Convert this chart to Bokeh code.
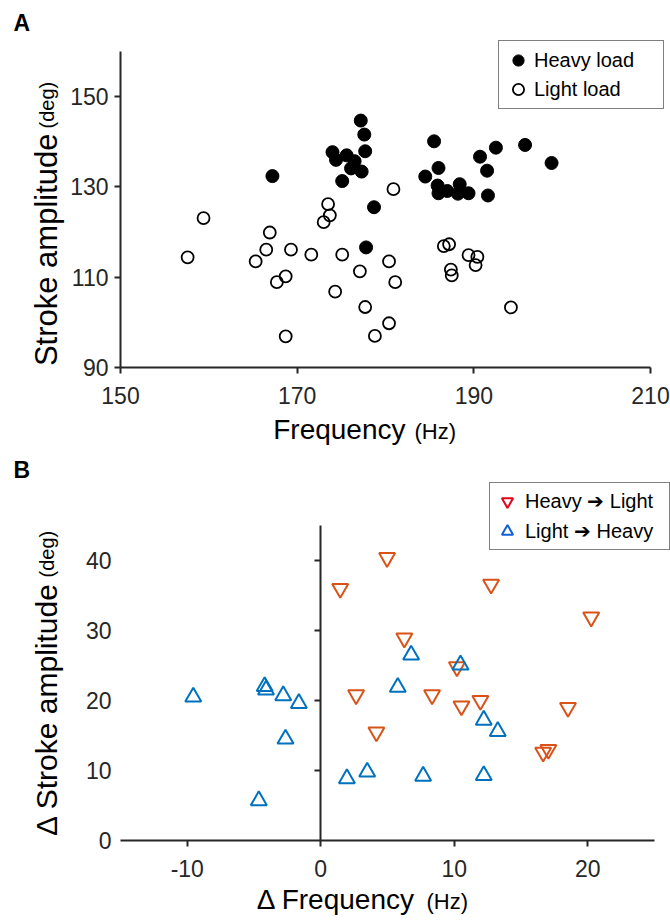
import math
from bokeh.plotting import figure
from bokeh.models import Label, Legend, LegendItem, FixedTicker, Range1d, LinearAxis
from bokeh.layouts import column
from bokeh.embed import file_html
from bokeh.resources import INLINE

# ---------------- Data: panel A ----------------
heavy_freq = [167.2, 177.2, 177.6, 177.7, 174.0, 174.4, 175.6, 176.5, 176.1, 177.3,
              175.1, 178.7, 177.8, 185.5, 184.5, 186.0, 185.9, 186.0, 187.0, 188.4,
              188.2, 189.4, 190.7, 191.5, 191.6, 192.5, 195.8, 198.8]
heavy_amp = [132.4, 144.7, 141.6, 137.9, 137.7, 136.0, 137.0, 135.7, 134.1, 133.4,
             131.3, 125.5, 116.6, 140.1, 132.3, 134.2, 130.3, 128.6, 129.1, 130.6,
             128.5, 128.6, 136.7, 133.6, 128.1, 138.7, 139.3, 135.3]
light_freq = [157.6, 159.4, 165.3, 166.5, 166.9, 167.7, 168.7, 168.7, 169.3, 171.6,
              173.0, 173.7, 173.5, 174.3, 175.1, 177.1, 177.7, 178.8, 180.4, 180.4,
              180.9, 181.1, 186.6, 187.2, 187.4, 187.5, 189.4, 190.4, 190.2, 194.2]
light_amp = [114.4, 123.1, 113.5, 116.1, 119.9, 108.9, 110.2, 96.9, 116.1, 115.0,
             122.2, 123.7, 126.2, 106.8, 115.0, 111.3, 103.4, 97.0, 113.5, 99.8,
             129.5, 108.9, 116.9, 117.3, 111.7, 110.4, 114.9, 114.5, 112.7, 103.3]

# ---------------- Data: panel B ----------------
hl_dfreq = [1.46, 4.97, 12.76, 20.26, 6.26, 10.2, 2.65, 8.34, 10.54, 11.96,
            18.52, 4.17, 16.66, 17.05]
hl_damp = [36.0, 40.4, 36.6, 31.9, 28.9, 24.8, 20.8, 20.8, 19.2, 20.0,
           19.0, 15.5, 12.6, 13.0]
lh_dfreq = [-9.55, -4.2, -4.1, -2.81, -1.64, -2.64, -4.64, 1.96, 3.48, 7.67,
            12.21, 5.77, 6.77, 10.47, 12.21, 13.26]
lh_damp = [20.5, 22.0, 21.5, 20.7, 19.6, 14.5, 5.7, 8.85, 9.8, 9.2,
           9.3, 21.9, 26.5, 25.1, 17.2, 15.6]

a_xlim = (150, 210)
a_ylim = (90, 160)
a_xticks = [150, 170, 190, 210]
a_yticks = [90, 110, 130, 150]
b_xlim = (-15, 25)
b_ylim = (0, 45)
b_xticks = [-10, 0, 10, 20]
b_yticks = [0, 10, 20, 30, 40]

FONT = "Liberation Sans"
AX = "#262626"
ORANGE = "#D95319"
BLUE = "#0072BD"
W = 670
NAN = float("nan")


def full_range(lo, hi, px_lo, px_hi, px_min, px_max):
    k = (hi - lo) / (px_hi - px_lo)
    return Range1d(lo - (px_lo - px_min) * k, hi + (px_max - px_hi) * k)


def full_range_y(lo, hi, py_lo, py_hi, top, bottom):
    k = (hi - lo) / (py_lo - py_hi)
    return Range1d(lo - (bottom - py_lo) * k, hi + (py_hi - top) * k)


def style_axis(ax, standoff, tick=6):
    ax.axis_line_color = AX
    ax.axis_line_width = 2
    ax.major_tick_line_color = AX
    ax.major_tick_line_width = 2
    ax.major_tick_out = tick
    ax.major_tick_in = 0
    ax.minor_tick_line_color = None
    ax.major_label_text_font = FONT
    ax.major_label_text_font_size = "23px"
    ax.major_label_text_color = AX
    ax.major_label_standoff = standoff


SHIFT = 9  # empirical baseline correction


def hlab(p, x, y, text, size, align="left", bold=False):
    p.add_layout(Label(x=x, y=y + SHIFT, x_units="screen", y_units="screen", text=text,
                       text_align=align, text_baseline="alphabetic",
                       text_font=FONT, text_font_size=size, text_color="black",
                       text_font_style="bold" if bold else "normal"))


def vlab(p, x, y, text, size, align="left"):
    p.add_layout(Label(x=x - SHIFT - 1, y=y, x_units="screen", y_units="screen", text=text,
                       text_align=align, text_baseline="alphabetic", angle=math.pi / 2,
                       text_font=FONT, text_font_size=size, text_color="black"))


def base_fig(h, xr, yr):
    p = figure(width=W, height=h, output_backend="svg", toolbar_location=None,
               x_range=xr, y_range=yr, x_axis_location=None, y_axis_location=None,
               min_border=0, min_border_left=0, min_border_right=0,
               min_border_top=0, min_border_bottom=0)
    p.outline_line_color = None
    p.grid.visible = False
    return p


# ---------------- Panel A (page y 0..452) ----------------
HA = 452
pA = base_fig(HA, full_range(*a_xlim, 120, 650, 0, W), full_range_y(*a_ylim, 367, 51, 0, HA))

xa = LinearAxis(fixed_location=a_ylim[0], bounds=a_xlim, ticker=FixedTicker(ticks=a_xticks))
ya = LinearAxis(fixed_location=a_xlim[0], bounds=a_ylim, ticker=FixedTicker(ticks=a_yticks))
style_axis(xa, 13)
style_axis(ya, 6)
pA.add_layout(xa, "below")
pA.add_layout(ya, "left")

rh = pA.scatter(heavy_freq, heavy_amp, size=13, marker="circle",
                fill_color="black", line_color="black", line_width=1)
rl = pA.scatter(light_freq, light_amp, size=12, marker="circle",
                fill_color=None, line_color="black", line_width=1.8)

legA = Legend(items=[LegendItem(label="Heavy load", renderers=[rh]),
                     LegendItem(label="Light load", renderers=[rl])],
              location=(498, HA - 109), padding=5, spacing=1, margin=0,
              glyph_width=28, glyph_height=28, label_height=28, label_width=124,
              label_standoff=2, label_text_font=FONT, label_text_font_size="20px",
              label_text_color="black", border_line_color="black", border_line_width=1.5,
              background_fill_color="white", background_fill_alpha=1.0)
pA.add_layout(legA, "center")

hlab(pA, 405, HA - 438, "Frequency", "28px", align="right")
hlab(pA, 414, HA - 440, "(Hz)", "22px", align="left")
vlab(pA, 56, HA - 133, "Stroke amplitude", "31px", align="right")
vlab(pA, 56, HA - 128, "(deg)", "20px", align="left")
hlab(pA, 13, HA - 31, "A", "23px", bold=True)

# ---------------- Panel B (page y 452..920) ----------------
HB = 468
TOPB = 452
pB = base_fig(HB, full_range(*b_xlim, 120, 654, 0, W),
              full_range_y(*b_ylim, 840 - TOPB, 525 - TOPB, 0, HB))

xb = LinearAxis(fixed_location=0, bounds=b_xlim, ticker=FixedTicker(ticks=b_xticks),
                major_label_overrides={-10: "-10"})
style_axis(xb, 13)
pB.add_layout(xb, "below")

yb_lab = LinearAxis(fixed_location=b_xlim[0], bounds=b_ylim, ticker=FixedTicker(ticks=b_yticks))
style_axis(yb_lab, 9, tick=0)
yb_lab.axis_line_color = None
yb_lab.major_tick_line_color = None
pB.add_layout(yb_lab, "left")

yb_zero = LinearAxis(fixed_location=0, bounds=b_ylim, ticker=FixedTicker(ticks=b_yticks[1:]))
style_axis(yb_zero, 4)
yb_zero.major_label_text_color = None
pB.add_layout(yb_zero, "left")

pB.scatter(hl_dfreq, hl_damp, marker="inverted_triangle", size=16,
           fill_color=None, line_color=ORANGE, line_width=2)
pB.scatter(lh_dfreq, lh_damp, marker="triangle", size=16,
           fill_color=None, line_color=BLUE, line_width=2)

# legend proxies (legend marker colours differ from the plotted ones in the reference)
lg1 = pB.scatter([NAN], [NAN], marker="inverted_triangle", size=12, fill_color=None,
                 line_color="#E3001B", line_width=2)
lg2 = pB.scatter([NAN], [NAN], marker="triangle", size=12, fill_color=None,
                 line_color="#1560D6", line_width=2)
legB = Legend(items=[LegendItem(label="Heavy \u2794 Light", renderers=[lg1]),
                     LegendItem(label="Light \u2794 Heavy", renderers=[lg2])],
              location=(489, HB - (550 - TOPB)), padding=3, spacing=0, margin=0,
              glyph_width=28, glyph_height=30, label_height=30, label_width=141,
              label_standoff=4, label_text_font=FONT, label_text_font_size="20px",
              label_text_color="black", border_line_color="black", border_line_width=1.5,
              background_fill_color="white", background_fill_alpha=1.0)
pB.add_layout(legB, "center")

hlab(pB, 415, 920 - 908, "\u0394 Frequency", "28px", align="right")
hlab(pB, 426, 920 - 910, "(Hz)", "22px", align="left")
vlab(pB, 56, 920 - 582, "\u0394 Stroke amplitude", "30px", align="right")
vlab(pB, 56, 920 - 577, "(deg)", "20px", align="left")
hlab(pB, 13, 920 - 478, "B", "23px", bold=True)

layout = column(pA, pB, spacing=0)
open("out.html", "w").write(file_html(layout, INLINE))
